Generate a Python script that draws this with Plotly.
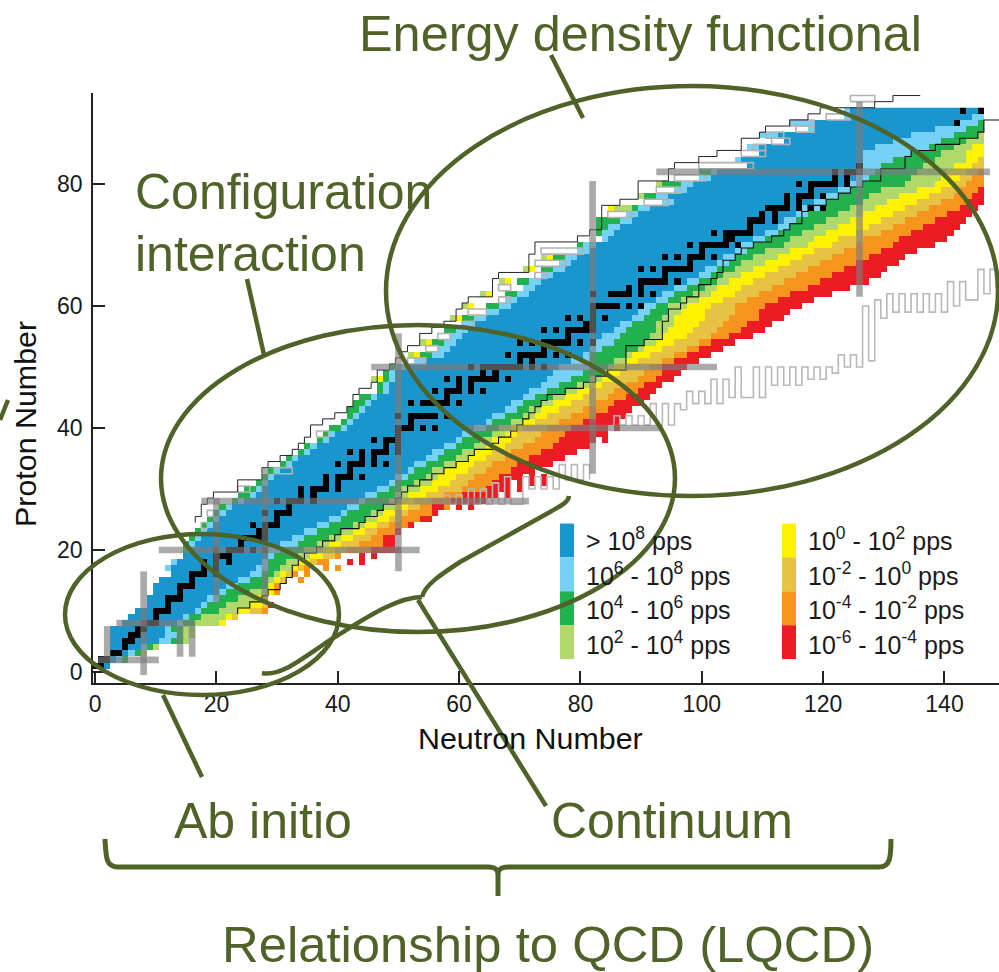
import plotly.graph_objects as go

# ---------- chart data, rows are proton numbers 1..92 ----------
proton_numbers = list(range(1, 93))
green_start = [0,1,3,3,3,3,3,5,6,7, 9,9,10,10,11,13,12,13,15,15,
 15,16,17,18,19,20,21,23,24,25, 27,28,29,31,32,34,35,37,38,39,
 41,42,42,43,44,47,47,48,48,49, 53,54,57,56,59,58,61,61,65,65,
 68,68,71,70,74,74,77,76,80,80, 84,83,83,83,88,89,94,91,96,94,
 100,100,108,106,110,108,114,110,118,115,124,124]
light_start = [0,1,3,3,3,3,3,5,6,7, 9,9,10,10,11,13,12,13,15,16,
 16,17,18,19,20,21,22,24,26,27, 28,29,30,32,33,35,36,38,39,41,
 42,43,44,45,46,48,48,49,49,50, 53,56,57,58,59,60,61,63,65,67,
 68,70,71,72,74,76,77,78,80,81, 84,84,85,87,88,90,94,93,96,97,
 100,102,108,106,110,108,114,110,118,115,124,124]
blue_start = [0,1,3,3,3,3,3,5,6,7, 9,9,10,10,11,13,13,14,15,16,
 17,18,19,20,21,22,23,25,27,28, 29,30,31,33,34,36,37,39,40,42,
 43,44,45,46,47,49,49,50,50,52, 55,58,59,60,61,62,63,65,67,69,
 70,72,73,74,76,78,79,80,82,83, 85,86,87,89,90,92,96,95,98,99,
 102,103,108,107,110,110,114,113,119,119,125,125]
blue_end = [2,3,5,7,10,11,11,13,14,16, 17,18,20,21,23,25,26,27,28,28,
 30,32,34,36,38,40,41,43,44,46, 48,49,51,52,54,55,57,59,60,62,
 64,65,67,68,70,71,73,74,75,76, 78,80,81,82,83,85,86,88,89,90,
 92,93,95,97,99,100,102,103,105,106, 108,110,112,113,115,116,118,120,122,124,
 125,126,126,126,126,128,131,134,138,141,144,146]
light_end = [2,4,6,8,12,13,12,14,15,17, 18,20,21,23,25,27,28,28,29,30,
 33,34,36,38,40,41,43,44,46,48, 49,51,52,54,56,57,59,60,62,64,
 65,67,69,70,72,74,76,78,80,81, 81,81,83,85,86,87,88,90,91,92,
 94,95,97,99,101,102,104,105,107,108, 110,112,114,115,117,119,120,122,124,126,
 127,128,129,131,134,137,139,141,143,145,146,146]
green_end = [2,5,7,9,14,14,14,16,17,20, 21,23,25,28,28,29,30,31,33,34,
 36,38,40,42,44,45,47,48,49,50, 52,54,55,57,59,60,62,63,65,66,
 68,70,71,73,75,77,79,81,83,84, 85,87,89,90,91,92,92,93,94,94,
 96,98,100,102,103,105,106,108,110,113, 114,116,118,120,122,124,126,127,129,133,
 134,135,136,138,139,141,143,145,146,146,146,146]
lgreen_end = [2,5,8,10,15,16,16,20,21,23, 25,26,28,28,29,30,32,33,35,37,
 38,40,42,44,46,47,49,50,51,53, 55,56,57,59,61,62,64,65,67,68,
 70,72,73,75,77,79,81,83,84,85, 87,88,90,92,93,94,95,95,96,97,
 99,101,102,104,106,108,110,112,114,117, 118,120,122,124,126,128,130,132,135,138,
 139,140,141,143,143,144,146,146,146,146,146,146]
yellow_end = [2,5,8,10,15,16,16,21,22,25, 27,27,29,29,30,31,33,35,37,39,
 40,42,44,46,48,49,51,52,54,56, 58,59,61,62,64,65,67,68,69,70,
 72,74,76,78,80,81,83,85,86,87, 89,91,93,95,97,98,99,100,100,101,
 103,105,106,108,110,112,114,116,118,121, 122,125,127,129,131,133,135,137,139,141,
 142,143,144,145,146,146,146,146,146,146,146,146]
gold_end = [2,5,8,10,15,16,16,21,23,27, 28,28,29,30,31,32,34,36,39,41,
 43,45,46,48,50,51,53,55,57,60, 61,62,64,65,67,68,70,72,73,74,
 76,78,80,82,84,85,87,89,90,91, 93,95,97,99,101,102,103,104,105,105,
 107,109,111,113,115,117,119,121,123,125, 126,129,131,133,135,137,139,141,142,143,
 144,145,146,146,146,146,146,146,146,146,146,146]
orange_end = [2,5,8,10,15,16,16,21,23,28, 28,28,29,30,31,33,35,38,40,45,
 47,47,49,51,53,54,55,58,60,64, 65,66,68,69,71,73,75,76,77,78,
 80,82,84,85,87,89,90,92,93,93, 95,97,99,101,104,106,107,109,109,110,
 112,114,117,119,121,123,125,127,129,131, 132,134,136,138,140,142,143,144,145,146,
 146,146,146,146,146,146,146,146,146,146,146,146]
red_end = [2,5,8,10,15,16,16,21,23,28, 29,28,29,30,31,33,35,38,40,50,
 49,49,50,52,55,56,57,64,65,68, 68,70,72,75,77,79,81,82,83,84,
 86,87,88,90,91,92,93,95,96,97, 99,101,103,105,108,110,111,113,114,116,
 118,121,124,127,129,130,132,133,135,138, 140,141,142,143,144,145,146,146,146,146,
 146,146,146,146,146,146,146,146,146,146,146,146]

# stable nuclides (black cells): neutron numbers for each proton number
stable_neutrons = [[0,1],[1,2],[3,4],[5],[5,6],[6,7],[7,8],[8,9,10],[10],[10,11,12],
 [12],[12,13,14],[14],[14,15,16],[16],[16,17,18,20],[18,20],[18,20,22],[20,21,22],[20,22,23,24,26,28],
 [24],[24,25,26,27,28],[27,28],[26,28,29,30],[30],[28,30,31,32],[32],[30,32,33,34,36],[34,36],[34,36,37,38,40],
 [38,40],[38,40,41,42,44],[42],[40,42,43,44,46,48],[44,46],[42,44,46,47,48,50],[48,50],[46,48,49,50],[50],[50,51,52,54,56],
 [52],[50,52,53,54,55,56,58],[],[52,54,55,56,57,58,60],[58],[56,58,59,60,62,64],[60,62],[58,60,62,63,64,65,66,68],[64,66],[62,64,65,66,67,68,69,70,72,74],
 [70,72],[68,70,71,72,73,74,76,78],[74],[70,72,74,75,76,77,78,80,82],[78],[74,76,78,79,80,81,82],[81,82],[78,80,82,84],[82],[82,83,84,85,86,88,90],
 [],[82,85,86,87,88,90,92],[88,90],[90,91,92,93,94,96],[94],[90,92,94,95,96,97,98],[98],[94,96,98,99,100,102],[100],[98,100,101,102,103,104,106],
 [104,105],[102,104,105,106,107,108],[108],[108,109,110,112],[110,112],[111,112,113,114,116,118,120],[114,116],[114,116,117,118,120],[118],[116,118,119,120,121,122,124],
 [122,124],[122,124,125,126],[126],[],[],[],[],[],[],[142],[],[143,146]]

# isolated coloured cells (band codes: 1 blue .. 8 red)
extra_n = [30,30,34,35,38,38,40,42,44,44,46, 52,55,58,60,62, 64,66,68,68,70,70,72,72,74,74, 84,84,86,
           47,53,55,60,62,65,68,72,75,85,46,52,54,59,61,64,67,71,74,86,87,88,90,93]
extra_z = [13,14,15,16,17,18,17,18,18,19,19, 25,26,27,27,27, 29,29,29,30,30,31,31,32,31,32, 38,39,40,
           48,52,54,58,60,62,64,66,68,76,48,52,54,58,60,62,64,66,68,76,76,76,78,80]
extra_code = [7,7,7,7,7,7,7,8,8,8,8, 7,7,7,8,8, 8,8,8,8,8,8,8,8,8,8, 8,8,8,
              5,5,5,5,5,5,5,5,5,5,4,4,4,4,4,4,4,4,4,4,4,4,4,4]

# magic-number bars
bar_v_n = [2,8,14,16,20,28,50,82,126]
bar_v_z0 = [3,0,3,3,12,12,17,33,62]
bar_v_z1 = [7,16,7,7,28,33,55,80,93]
bar_h_z = [2,8,20,28,40,50,82]
bar_h_n0 = [1,4,11,18,62,46,93]
bar_h_n1 = [10,16,53,71,93,102,147]

# gray outlined boxes on the proton-rich side
box_z = [94,91,90,89,88,87,86,85,83,81,79,77,75,69,67,65,63,61,59,57,55,53,51,39,33,30,26,24]
box_n0 = [125,121,115,116,111,112,109,107,100,96,93,91,85,74,73,73,67,67,62,61,57,55,52,37,30,24,19,18]
box_n1 = [128,124,118,118,113,114,110,110,108,100,96,94,88,80,77,74,68,68,64,62,58,56,54,38,32,25,19,18]

# comb of gray outlined boxes on the neutron-rich side
comb_n = [58,60,62,64,66,68,71,73,75,77,79,81,86,88,90,
          92,94,96,98,100,102,104,106,109,111,113,115,117,119,121,123,125,127,129,131,133,135,137,139,141,143,146,148]
comb_top = [29,29,30,30,31,32,32,32,32,34,34,34,42,42,42,
            44,44,44,46,46,48,48,50,50,50,50,50,50,50,50,52,52,60,61,62,62,62,62,62,64,64,66,66]
comb_bot = [27.5,27.5,27.5,27.5,27.5,27.5,30,30,30,31.5,31.5,31.5,40.5,40.5,40.5,
            40.5,40.5,43,44,44,44,45,45,45,47,47,47,48,48,49,50,50,51,58,59,59,59,59,59,60,61,62,63]

# thin black step lines
thin_left_z = list(range(24, 95))
thin_left_n = [17,18,18,19,20,24,24,28,28,29,31,33,34,35,36,36,38,40,42,43,43,44,46,47,47,49,50,51,52,54,54,56,58,60,60,61,62,66,66,66,67,72,72,72,73,73,80,82,84,84,84,84,87,90,90,90,95,95,96,100,103,107,107,110,111,115,118,120,129,132,133]
thin_left_end = [136, 94]
thin_right_z = list(range(9, 92))
thin_right_n = [23,25,27,28,30,31,32,32,33,34,36,37,39,40,43,44,46,47,49,50,51,53,55,57,59,61,62,65,66,68,69,70,71,72,73,74,77,80,82,84,87,87,87,87,90,93,93,93,94,94,96,97,99,99,101,102,103,103,105,106,108,111,113,114,116,116,117,120,122,124,126,129,129,133,133,134,138,142,145,146,146,149,149]

tick_n = [0,20,40,60,80,100,120,140]
tick_z = [0,20,40,60,80]

legend_labels_a = ["&gt; 10<sup>8</sup> pps","10<sup>6</sup> - 10<sup>8</sup> pps","10<sup>4</sup> - 10<sup>6</sup> pps","10<sup>2</sup> - 10<sup>4</sup> pps"]
legend_labels_b = ["10<sup>0</sup> - 10<sup>2</sup> pps","10<sup>-2</sup> - 10<sup>0</sup> pps","10<sup>-4</sup> - 10<sup>-2</sup> pps","10<sup>-6</sup> - 10<sup>-4</sup> pps"]

# ---------- styles ----------
band_colors = ["#000000","#1a96cf","#76d1f7","#22b14c","#b0d86a","#fff200","#e8c243","#f7941d","#ed1c24"]
OLIVE = "#4f6228"
FONT = "Liberation Sans"
W, H = 999, 972
L, R, T, B = 93, 999, 93, 683
def px(x): return (x - L) / (R - L)
def py(y): return (B - y) / (B - T)

# ---------- cell grid ----------
grid = [[None] * 150 for _ in range(93)]
def fill(z, a, b, code):
    for n in range(a, b + 1):
        if 0 <= n < 150:
            grid[z][n] = code
for i, z in enumerate(proton_numbers):
    fill(z, green_start[i], light_start[i] - 1, 3)
    fill(z, light_start[i], blue_start[i] - 1, 2)
    fill(z, blue_start[i], blue_end[i], 1)
    fill(z, blue_end[i] + 1, light_end[i], 2)
    fill(z, light_end[i] + 1, green_end[i], 3)
    fill(z, green_end[i] + 1, lgreen_end[i], 4)
    fill(z, lgreen_end[i] + 1, yellow_end[i], 5)
    fill(z, yellow_end[i] + 1, gold_end[i], 6)
    fill(z, gold_end[i] + 1, orange_end[i], 7)
    fill(z, orange_end[i] + 1, red_end[i], 8)
for n, z, c in zip(extra_n, extra_z, extra_code):
    grid[z][n] = c
for i, z in enumerate(proton_numbers):
    for n in stable_neutrons[i]:
        grid[z][n] = 0

k = len(band_colors)
colorscale = []
for i, c in enumerate(band_colors):
    colorscale += [[i / k, c], [(i + 1) / k, c]]

fig = go.Figure()
fig.add_trace(go.Heatmap(z=grid, x=list(range(150)), y=list(range(93)), zmin=-0.5, zmax=k - 0.5,
                         colorscale=colorscale, showscale=False, hoverinfo="skip"))

# gray outlined boxes
bx, by = [], []
for z, a, b in zip(box_z, box_n0, box_n1):
    bx += [a - .5, b + .5, b + .5, a - .5, a - .5, None]
    by += [z - .5, z - .5, z + .5, z + .5, z - .5, None]
fig.add_trace(go.Scatter(x=bx, y=by, mode="lines", line=dict(color="#b2b2b2", width=1.6),
                         hoverinfo="skip", showlegend=False))

# comb
cx, cy = [], []
for i, n in enumerate(comb_n):
    cx += [n - .5, n - .5, n + .5, n + .5]
    cy += [comb_bot[i], comb_top[i], comb_top[i], comb_bot[i]]
    if i + 1 < len(comb_n):
        if comb_n[i + 1] - n > 3:
            cx.append(None); cy.append(None)
        else:
            cx.append(comb_n[i + 1] - .5); cy.append(comb_bot[i])
fig.add_trace(go.Scatter(x=cx, y=cy, mode="lines", line=dict(color="#b8b8b8", width=1.6),
                         hoverinfo="skip", showlegend=False))

# thin step lines
fig.add_trace(go.Scatter(x=[n - .5 for n in thin_left_n] + [thin_left_end[0]],
                         y=[z + .5 for z in thin_left_z] + [thin_left_end[1] + .5], mode="lines",
                         line=dict(color="#222222", width=1, shape="vh"), hoverinfo="skip", showlegend=False))
fig.add_trace(go.Scatter(x=[n + .5 for n in thin_right_n], y=[z + .5 for z in thin_right_z], mode="lines",
                         line=dict(color="#111111", width=1.1, shape="vh"), hoverinfo="skip", showlegend=False))

shapes = []
BAR = "rgba(125,125,125,0.65)"
for n, a, b in zip(bar_v_n, bar_v_z0, bar_v_z1):
    shapes.append(dict(type="rect", xref="x", yref="y", x0=n - .55, x1=n + .55, y0=a - .5, y1=b + .5,
                       fillcolor=BAR, line_width=0, layer="above"))
for z, a, b in zip(bar_h_z, bar_h_n0, bar_h_n1):
    shapes.append(dict(type="rect", xref="x", yref="y", x0=a - .5, x1=b + .5, y0=z - .55, y1=z + .55,
                       fillcolor=BAR, line_width=0, layer="above"))

# legend swatches
sw_top = 523.5; sw_h = 33.9
for col_x, cols in ((560, band_colors[1:5]), (782, band_colors[5:9])):
    for j, c in enumerate(cols):
        shapes.append(dict(type="rect", xref="paper", yref="paper", x0=px(col_x), x1=px(col_x + 14),
                           y0=py(sw_top + j * sw_h), y1=py(sw_top + (j + 1) * sw_h), fillcolor=c, line_width=0))

def oline(d, w=4.5):
    shapes.append(dict(type="path", xref="paper", yref="paper", path=d, line=dict(color=OLIVE, width=w), layer="above"))
def P(*pts):
    return "M " + " L ".join(f"{px(x):.5f},{py(y):.5f}" for x, y in pts)
def C(start, *segs):
    d = f"M {px(start[0]):.5f},{py(start[1]):.5f}"
    for a, b, c in segs:
        d += f" C {px(a[0]):.5f},{py(a[1]):.5f} {px(b[0]):.5f},{py(b[1]):.5f} {px(c[0]):.5f},{py(c[1]):.5f}"
    return d

# ellipses
for x0, x1, y0, y1 in ((65, 339, 534, 695), (161, 675, 325, 632), (386, 998, 86, 496)):
    shapes.append(dict(type="circle", xref="paper", yref="paper", x0=px(x0), x1=px(x1), y0=py(y1), y1=py(y0),
                       line=dict(color=OLIVE, width=4.5), layer="above"))
# pointers
oline(P((551, 55), (583, 118)))
oline(P((247, 279), (264, 355)))
oline(P((163, 695), (202, 777)))
oline(P((418, 600), (546, 806)))
oline(P((8, 400), (0, 420)))
# squiggle
oline(C((262, 673), ((280, 677), (300, 660), (330, 640)), ((360, 622), (395, 597), (422, 597))))
oline(C((422, 597), ((425, 585), (440, 575), (460, 562)), ((500, 540), (530, 523), (550, 512)), ((560, 506), (568, 503), (569, 496))))
# brace
oline(C((105, 839), ((106, 858), (106, 867), (118, 867))) + f" L {px(488):.5f},{py(867):.5f}" +
      f" C {px(495):.5f},{py(867):.5f} {px(498):.5f},{py(869):.5f} {px(498):.5f},{py(875):.5f} L {px(498):.5f},{py(896):.5f}" +
      f" M {px(498):.5f},{py(875):.5f} C {px(498):.5f},{py(869):.5f} {px(501):.5f},{py(867):.5f} {px(508):.5f},{py(867):.5f}" +
      f" L {px(879):.5f},{py(867):.5f} C {px(890):.5f},{py(867):.5f} {px(891):.5f},{py(858):.5f} {px(891):.5f},{py(839):.5f}", 5)

anns = []
def label(t, x, y, size=50, color=OLIVE, anchor="left", angle=0):
    anns.append(dict(text=t, xref="paper", yref="paper", x=px(x), y=py(y), xanchor=anchor, yanchor="middle",
                     showarrow=False, textangle=angle, font=dict(family=FONT, size=size, color=color)))
label("Energy density functional", 357, 33, size=50.4)
label("Configuration", 133, 192)
label("interaction", 133, 254)
label("Ab initio", 172, 821)
label("Continuum", 549, 821)
label("Relationship to QCD (LQCD)", 220, 945, size=50.8)
for j, t in enumerate(legend_labels_a):
    label(t, 584, 539 + j * 34.5, size=25, color="#1a1a1a")
for j, t in enumerate(legend_labels_b):
    label(t, 806, 539 + j * 34.5, size=25, color="#1a1a1a")
label("Neutron Number", 530, 738, size=30.4, color="#111111", anchor="center")
label("Proton Number", 25, 424, size=30.4, color="#111111", anchor="center", angle=-90)

axis = dict(showgrid=False, zeroline=False, showline=True, linecolor="#222222", linewidth=1.5,
            ticks="inside", ticklen=12, tickwidth=1.5, tickcolor="#222222",
            tickfont=dict(family=FONT, size=23, color="#1a1a1a"))
fig.update_layout(
    width=W, height=H, autosize=False, paper_bgcolor="white", plot_bgcolor="white", showlegend=False,
    margin=dict(l=L, r=W - R, t=T, b=H - B),
    xaxis=dict(axis, range=[(L - 95.1) / 6.067, (R - 95.1) / 6.067], tickvals=tick_n, ticklabelstandoff=0),
    yaxis=dict(axis, range=[(672 - B) / 6.1, (672 - T) / 6.1], tickvals=tick_z, ticklabelstandoff=4),
    shapes=shapes, annotations=anns)

fig.write_html("out.html", config={"displayModeBar": False},
               post_script="document.body.style.margin='0';document.body.style.overflow='hidden';")
